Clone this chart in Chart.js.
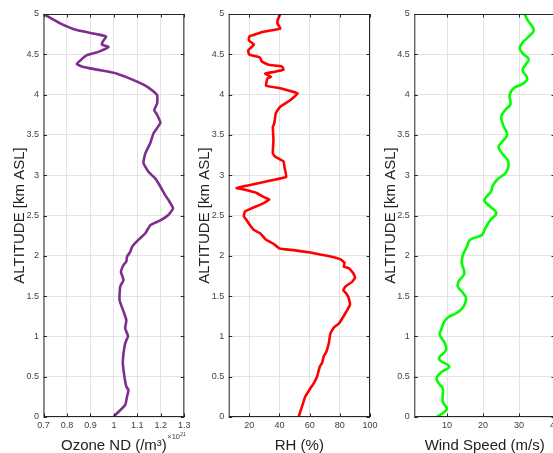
<!DOCTYPE html>
<html>
<head>
<meta charset="utf-8">
<script src="https://cdn.jsdelivr.net/npm/chart.js@4.4.1/dist/chart.umd.min.js"></script>
<style>
  html, body { margin: 0; padding: 0; background: #fff; overflow: hidden; }
  #wrap { position: relative; width: 553px; height: 453px; overflow: hidden; }
  canvas { position: absolute; top: 0; }
</style>
</head>
<body>
<div id="wrap">
  <canvas id="ozone" style="left:0px" width="196" height="453"></canvas>
  <canvas id="rh" style="left:190px" width="192" height="453"></canvas>
  <canvas id="wind" style="left:375px" width="183" height="453"></canvas>
</div>
<script>
// tick labels
const altTicks = [0, 0.5, 1, 1.5, 2, 2.5, 3, 3.5, 4, 4.5, 5];
const ozoneTicks = [0.7, 0.8, 0.9, 1, 1.1, 1.2, 1.3];
const rhTicks = [20, 40, 60, 80, 100];
const windTicks = [10, 20, 30, 40];

// ozone number density (x 1e21 /m3) vs altitude (km)
const ozoneAlt = [0, 0.025, 0.149, 0.252, 0.335, 0.376, 0.5, 0.666, 0.79, 0.914, 1.005, 1.1, 1.2, 1.31, 1.45,
  1.62, 1.7, 1.8, 1.886, 1.93, 1.99, 2.05, 2.11, 2.2, 2.28, 2.38, 2.44, 2.51, 2.59, 2.69, 2.75, 2.86, 2.96,
  3.04, 3.15, 3.27, 3.4, 3.52, 3.65, 3.75, 3.81, 3.89, 3.995, 4.1, 4.18, 4.26, 4.31, 4.35, 4.38, 4.44, 4.49,
  4.53, 4.59, 4.62, 4.66, 4.72, 4.75, 4.8, 4.884, 5];
const ozoneND = [1.0, 1.006, 1.048, 1.056, 1.062, 1.053, 1.045, 1.038, 1.041, 1.048, 1.06, 1.048, 1.053, 1.041, 1.024,
  1.027, 1.041, 1.03, 1.041, 1.053, 1.056, 1.07, 1.077, 1.105, 1.134, 1.155, 1.198, 1.233, 1.252, 1.233, 1.219, 1.198, 1.176,
  1.148, 1.126, 1.134, 1.155, 1.169, 1.198, 1.184, 1.172, 1.184, 1.184, 1.141, 1.084, 1.013, 0.927, 0.863, 0.842, 0.863, 0.885,
  0.934, 0.977, 0.949, 0.953, 0.967, 0.927, 0.842, 0.771, 0.7];

// relative humidity (%)
const rhAlt = [0, 0.17, 0.252, 0.356, 0.418, 0.5, 0.624, 0.674, 0.75, 0.81, 0.914, 1.04, 1.11, 1.16, 1.244, 1.33,
  1.39, 1.47, 1.526, 1.576, 1.62, 1.68, 1.73, 1.78, 1.845, 1.865, 1.914, 1.956, 2.0, 2.04, 2.07, 2.09, 2.15,
  2.2, 2.28, 2.32, 2.38, 2.44, 2.49, 2.55, 2.59, 2.65, 2.7, 2.73, 2.78, 2.82, 2.84, 2.87, 2.92, 2.98, 3.09,
  3.17, 3.23, 3.27, 3.44, 3.6, 3.64, 3.77, 3.85, 3.93, 4.015, 4.08, 4.11, 4.2, 4.22, 4.26, 4.28, 4.31, 4.35,
  4.37, 4.41, 4.46, 4.5, 4.55, 4.62, 4.67, 4.72, 4.78, 4.82, 4.88, 4.93, 5];
const rhVal = [52.7, 55.6, 57.1, 60.5, 62.7, 64.9, 66.7, 68.3, 69.3, 71.1, 72.7, 73.8, 76.0, 79.4, 82.3, 85.0,
  86.7, 86.0, 84.5, 82.3, 83.8, 88.3, 90.1, 89.0, 86.0, 82.7, 83.1, 80.5, 71.6, 60.5, 49.3, 40.0, 36.0,
  31.1, 27.1, 23.1, 20.5, 18.3, 16.4, 17.1, 21.6, 29.3, 33.3, 29.3, 24.9, 17.1, 11.6, 18.3, 30.5, 44.5, 43.4,
  42.7, 37.1, 35.6, 36.0, 35.6, 36.5, 37.6, 40.5, 47.1, 52.0, 40.5, 31.1, 32.0, 34.3, 30.5, 36.0, 42.7, 41.6,
  32.7, 28.3, 27.1, 19.8, 19.3, 23.1, 19.8, 20.0, 29.3, 40.5, 38.7, 38.9, 40.5];

// wind speed (m/s)
const windAlt = [0, 0.095, 0.19, 0.27, 0.356, 0.4, 0.48, 0.56, 0.624, 0.71, 0.75, 0.83, 0.914, 1.02, 1.1, 1.18,
  1.24, 1.29, 1.37, 1.47, 1.53, 1.62, 1.68, 1.78, 1.91, 2.01, 2.11, 2.2, 2.26, 2.34, 2.44, 2.53, 2.61, 2.69,
  2.795, 2.88, 2.96, 3.04, 3.17, 3.27, 3.35, 3.415, 3.5, 3.62, 3.73, 3.81, 3.88, 3.995, 4.08, 4.13, 4.2, 4.3,
  4.37, 4.44, 4.5, 4.57, 4.64, 4.72, 4.8, 4.93, 5];
const windSpd = [7.1, 9.9, 8.8, 8.8, 8.8, 8.0, 7.1, 8.5, 10.6, 7.9, 8.0, 9.7, 9.4, 8.0, 8.5, 9.2,
  10.4, 12.7, 14.6, 15.3, 14.6, 13.0, 13.2, 14.8, 14.1, 14.4, 15.5, 16.4, 19.7, 20.6, 22.0, 23.7, 22.0, 20.4,
  22.2, 22.8, 24.3, 26.5, 27.0, 25.3, 24.3, 25.3, 26.7, 25.6, 25.1, 26.2, 27.6, 27.4, 28.5, 30.9, 32.3, 31.0,
  31.8, 32.7, 31.3, 30.2, 30.9, 32.7, 34.1, 32.3, 31.6];

const FONT = '"Liberation Sans", Arial, Helvetica, sans-serif';

const matlabAxes = {
  id: 'matlabAxes',
  afterDraw(chart, args, opts) {
    const {ctx, chartArea: a, scales} = chart;
    ctx.save();
    ctx.strokeStyle = '#262626';
    ctx.lineWidth = 1;
    ctx.strokeRect(a.left + 0.5, a.top + 0.5, a.right - a.left - 1, a.bottom - a.top - 1);
    const tl = 3.5;
    ctx.beginPath();
    scales.x.ticks.forEach(t => {
      const px = Math.round(scales.x.getPixelForValue(t.value)) + 0.5;
      ctx.moveTo(px, a.bottom); ctx.lineTo(px, a.bottom - tl);
      ctx.moveTo(px, a.top); ctx.lineTo(px, a.top + tl);
    });
    scales.y.ticks.forEach(t => {
      const py = Math.round(scales.y.getPixelForValue(t.value)) + 0.5;
      ctx.moveTo(a.left, py); ctx.lineTo(a.left + tl, py);
      ctx.moveTo(a.right, py); ctx.lineTo(a.right - tl, py);
    });
    ctx.stroke();

    ctx.fillStyle = '#222';
    ctx.font = '15px ' + FONT;
    ctx.textAlign = 'center';
    ctx.textBaseline = 'alphabetic';
    ctx.fillText(opts.xTitle, (a.left + a.right) / 2, a.bottom + 33);
    if (opts.exponent) {
      ctx.fillStyle = '#404040';
      ctx.textAlign = 'left';
      ctx.font = '7.5px ' + FONT;
      const w = ctx.measureText('\u00d710').width;
      const x0 = a.right - 17;
      ctx.fillText('\u00d710', x0, a.bottom + 22);
      ctx.font = '5.5px ' + FONT;
      ctx.fillText(opts.exponent, x0 + w, a.bottom + 18.5);
      ctx.fillStyle = '#222';
    }
    ctx.font = '15px ' + FONT;
    ctx.textAlign = 'center';
    ctx.translate(a.left - 19.6, (a.top + a.bottom) / 2);
    ctx.rotate(-Math.PI / 2);
    ctx.fillText('ALTITUDE [km ASL]', 0, 0);
    ctx.restore();
  }
};

const fmt = v => String(Math.round(v * 10) / 10);

function profile(id, alt, vals, color, xMin, xMax, xTicks, cfg) {
  const pts = alt.map((h, i) => ({x: vals[i], y: h}));
  return new Chart(document.getElementById(id), {
    type: 'scatter',
    data: {
      datasets: [{
        data: pts,
        showLine: true,
        borderColor: color,
        borderWidth: 2.6,
        pointRadius: 0,
        tension: cfg.tension,
        fill: false
      }]
    },
    options: {
      responsive: false,
      animation: false,
      events: [],
      layout: {padding: {top: 14, right: cfg.padRight, left: 0, bottom: 0}},
      plugins: {
        legend: {display: false},
        tooltip: {enabled: false},
        matlabAxes: {xTitle: cfg.xTitle, exponent: cfg.exponent}
      },
      scales: {
        x: {
          type: 'linear',
          min: xMin,
          max: xMax,
          afterBuildTicks: s => { s.ticks = xTicks.map(v => ({value: v})); },
          afterFit: s => { s.height = 36; s.paddingLeft = 0; s.paddingRight = 0; },
          grid: {color: '#e3e3e3', drawTicks: false},
          border: {display: false},
          ticks: {
            padding: 3,
            maxRotation: 0,
            autoSkip: false,
            color: '#404040',
            font: {family: FONT, size: 9},
            callback: fmt
          }
        },
        y: {
          type: 'linear',
          min: 0,
          max: 5,
          afterBuildTicks: s => { s.ticks = altTicks.map(v => ({value: v})); },
          afterFit: s => { s.width = cfg.yWidth; s.paddingTop = 0; s.paddingBottom = 0; },
          grid: {color: '#e3e3e3', drawTicks: false},
          border: {display: false},
          ticks: {
            padding: 4.5,
            autoSkip: false,
            color: '#404040',
            font: {family: FONT, size: 9},
            callback: fmt
          }
        }
      }
    },
    plugins: [matlabAxes]
  });
}

profile('ozone', ozoneAlt, ozoneND, '#7e2f8e', 0.7, 1.3, ozoneTicks,
  {xTitle: 'Ozone ND (/m\u00b3)', exponent: '21', yWidth: 43.5, padRight: 11.7, tension: 0.15});
profile('rh', rhAlt, rhVal, '#ff0000', 6.35, 100, rhTicks,
  {xTitle: 'RH (%)', yWidth: 38.7, padRight: 12, tension: 0.1});
profile('wind', windAlt, windSpd, '#00ff00', 0.9, 40, windTicks,
  {xTitle: 'Wind Speed (m/s)', yWidth: 39.3, padRight: 3, tension: 0.4});
</script>
</body>
</html>
